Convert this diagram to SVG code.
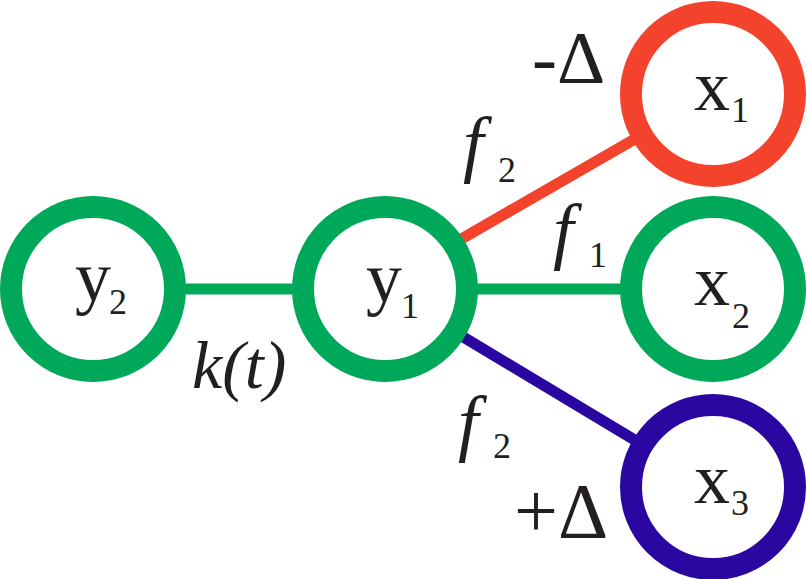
<svg xmlns="http://www.w3.org/2000/svg" width="807" height="579" viewBox="0 0 807 579">
<style>
.node{fill:#ffffff;stroke-width:22}
.g{stroke:#00A85A}
.r{stroke:#F4432D}
.b{stroke:#2A07A0}
.edge{stroke-width:11;fill:none}
.m{font-size:72px}
.s{font-size:36px}
</style>
<rect width="807" height="579" fill="#ffffff"/>
<g id="connectors">
<line class="edge g" x1="93" y1="289" x2="385" y2="289"/>
<line class="edge g" x1="385" y1="289" x2="713" y2="289"/>
<line class="edge r" x1="385" y1="283" x2="713" y2="94"/>
<line class="edge b" x1="385" y1="290" x2="713" y2="487"/>
</g>
<g font-family="Liberation Serif, DejaVu Serif, serif" fill="#231F20">
<g id="node-y2">
<circle class="node g" cx="93" cy="289" r="82"/>
<text class="m" x="75" y="301">y</text>
<text class="s" x="109" y="314">2</text>
</g>
<g id="node-y1">
<circle class="node g" cx="385" cy="289" r="82"/>
<text class="m" x="366" y="302">y</text>
<text class="s" x="401" y="318">1</text>
</g>
<g id="node-x1">
<circle class="node r" cx="713" cy="94" r="82"/>
<text class="m" x="694" y="110">x</text>
<text class="s" x="731" y="122">1</text>
</g>
<g id="node-x2">
<circle class="node g" cx="713" cy="289" r="82"/>
<text class="m" x="694" y="305">x</text>
<text class="s" x="732" y="328">2</text>
</g>
<g id="node-x3">
<circle class="node b" cx="713" cy="487" r="82"/>
<text class="m" x="694" y="503">x</text>
<text class="s" x="731" y="515">3</text>
</g>
<g id="labels">
<text font-style="italic" font-size="68" x="192" y="388">k(t)</text>
<text font-style="italic" font-size="74" x="463" y="168">f</text>
<text class="s" x="498" y="182">2</text>
<text font-style="italic" font-size="74" x="553" y="255">f</text>
<text class="s" x="589" y="267">1</text>
<text font-style="italic" font-size="74" x="458" y="447">f</text>
<text class="s" x="493" y="458">2</text>
<text font-size="75" x="532" y="83">-Δ</text>
<text font-size="78" x="514" y="537">+Δ</text>
</g>
</g>
</svg>
